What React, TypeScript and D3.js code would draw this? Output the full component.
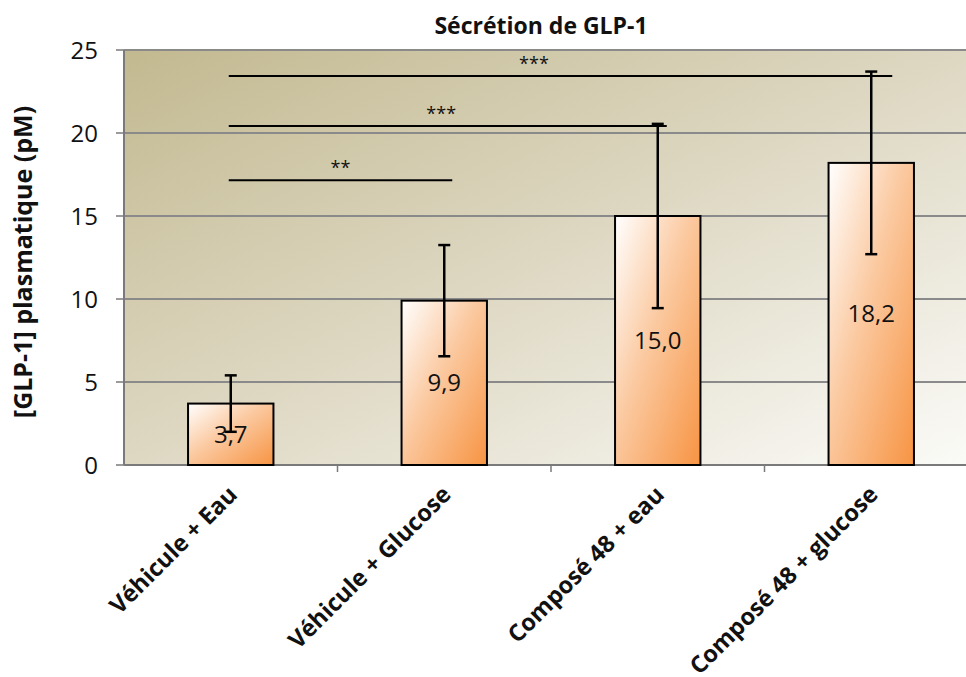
import React from "react";
import * as d3 from "d3";

const categories = ["Véhicule + Eau", "Véhicule + Glucose", "Composé 48 + eau", "Composé 48 + glucose"];
const values = [3.7, 9.9, 15.0, 18.2];
const valueLabels = ["3,7", "9,9", "15,0", "18,2"];
const errors = [1.7, 3.35, 5.55, 5.5];
const yTicks = [0, 5, 10, 15, 20, 25];
const sigLevels = [17.15, 20.42, 23.43];
const sigTargets = [1, 2, 3];
const sigStars = ["**", "***", "***"];
const title = "Sécrétion de GLP-1";
const yLabel = "[GLP-1] plasmatique (pM)";

const W = 966, H = 677;
const left = 124, right = 978, top = 50, bottom = 465;

export default function App() {
  const x = d3.scaleBand<string>().domain(categories).range([left, right]).paddingInner(0).paddingOuter(0);
  const y = d3.scaleLinear().domain([0, 25]).range([bottom, top]);
  const bw = x.bandwidth() * 0.4;
  const cx = (i: number) => (x(categories[i]) as number) + x.bandwidth() / 2;
  const font = "'Open Sans', 'DejaVu Sans', sans-serif";
  const endOffsets = [8, 9, 21];
  const starFrac = [0.5, 0.485, 0.46];
  return (
    <div style={{ position: "fixed", left: 0, top: 0 }}>
      <svg width={W} height={H} style={{ display: "block", background: "#fff" }} fontFamily={font}>
        <defs>
          <linearGradient id="bg" x1="0" y1="0" x2="1" y2="1">
            <stop offset="0" stopColor="#c2b990" />
            <stop offset="0.5" stopColor="#ded8c3" />
            <stop offset="1" stopColor="#fbfbf8" />
          </linearGradient>
          <linearGradient id="bar" x1="0" y1="0" x2="1" y2="1">
            <stop offset="0" stopColor="#ffffff" />
            <stop offset="0.45" stopColor="#fbc9a0" />
            <stop offset="1" stopColor="#f79443" />
          </linearGradient>
        </defs>
        <text x={541} y={34} textAnchor="middle" fontSize={23} fontWeight="bold" fill="#111">{title}</text>
        <rect x={left} y={top} width={right - left} height={bottom - top} fill="url(#bg)" />
        {yTicks.map((t) => (
          <g key={t}>
            {t > 0 && <line x1={left} x2={right} y1={y(t)} y2={y(t)} stroke="#8a8a8a" strokeWidth={2} />}
            <line x1={116} x2={left} y1={y(t)} y2={y(t)} stroke="#7a7a7a" strokeWidth={1.5} />
            <text x={98} y={y(t) + 8.5} textAnchor="end" fontSize={24} fill="#111">{t}</text>
          </g>
        ))}
        <line x1={left} x2={left} y1={top} y2={bottom} stroke="#7a7a7a" strokeWidth={2} />
        <line x1={left} x2={right} y1={bottom} y2={bottom} stroke="#7a7a7a" strokeWidth={2} />
        {categories.map((c, i) => (
          <line key={c} x1={(x(c) as number) + x.bandwidth()} x2={(x(c) as number) + x.bandwidth()} y1={bottom} y2={bottom + 7} stroke="#7a7a7a" strokeWidth={1.5} />
        ))}
        {values.map((v, i) => (
          <rect key={i} x={cx(i) - bw / 2} y={y(v)} width={bw} height={y(0) - y(v)} fill="url(#bar)" stroke="#000" strokeWidth={2} />
        ))}
        {values.map((v, i) => (
          <g key={"e" + i} stroke="#000" strokeWidth={2.5}>
            <line x1={cx(i)} x2={cx(i)} y1={y(v + errors[i])} y2={y(v - errors[i])} />
            <line x1={cx(i) - 6} x2={cx(i) + 6} y1={y(v + errors[i])} y2={y(v + errors[i])} />
            <line x1={cx(i) - 6} x2={cx(i) + 6} y1={y(v - errors[i])} y2={y(v - errors[i])} />
          </g>
        ))}
        {values.map((v, i) => (
          <text key={"l" + i} x={cx(i)} y={y(v / 2) + 8.5} textAnchor="middle" fontSize={24} fill="#111">{valueLabels[i]}</text>
        ))}
        {sigLevels.map((lv, k) => {
          const x1 = cx(0) - 2;
          const x2 = cx(sigTargets[k]) + endOffsets[k];
          const sx = x1 + (x2 - x1) * starFrac[k];
          return (
            <g key={"s" + k}>
              <line x1={x1} x2={x2} y1={y(lv)} y2={y(lv)} stroke="#000" strokeWidth={2} />
              <text x={sx} y={y(lv) - 6} textAnchor="middle" fontSize={18} fill="#111">{sigStars[k]}</text>
            </g>
          );
        })}
        <text transform={`translate(32, 262) rotate(-90)`} textAnchor="middle" fontSize={25} fontWeight="bold" fill="#111">{yLabel}</text>
        {categories.map((c, i) => (
          <text key={"c" + i} transform={`translate(${cx(i) + 8}, 496) rotate(-45)`} textAnchor="end" fontSize={23.5} fontWeight="bold" fill="#111">{c}</text>
        ))}
      </svg>
    </div>
  );
}
